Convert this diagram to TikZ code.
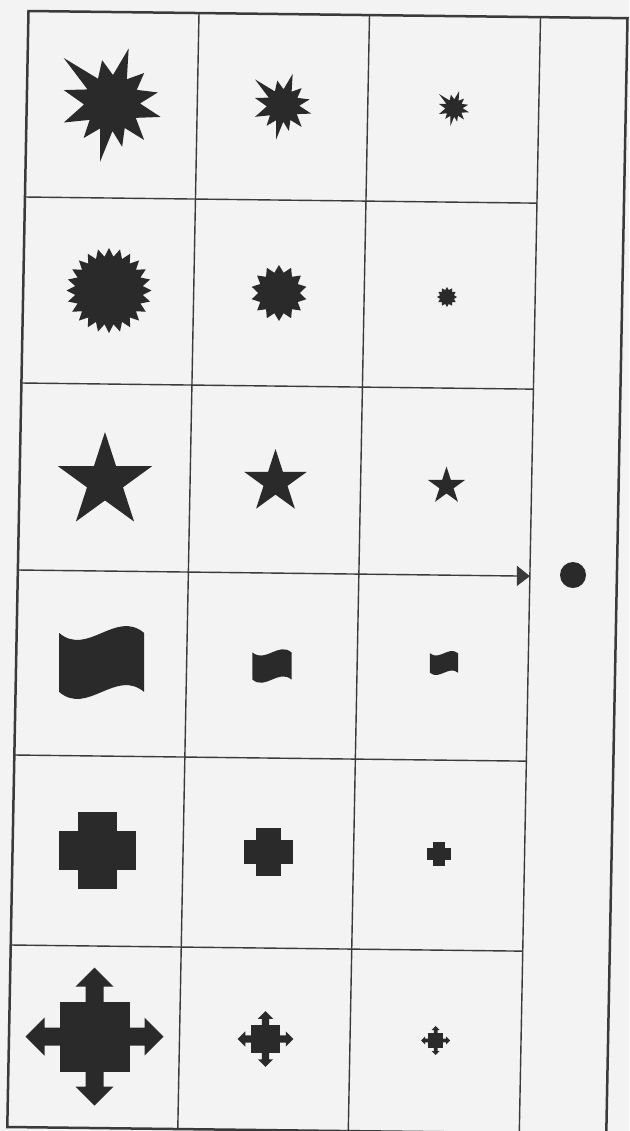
\documentclass[tikz,border=0pt]{standalone}
\usetikzlibrary{shapes.geometric,arrows.meta}
\definecolor{paper}{HTML}{F3F3F3}
\definecolor{ink}{HTML}{2A2A2A}
\definecolor{rule}{HTML}{3A3A3A}
\tikzset{
  gridline/.style={draw=rule,line width=0.7pt},
  frameline/.style={draw=rule,line width=1.25pt},
  shapefill/.style={fill=ink,draw=none},
  sunstar/.style={star,shapefill,inner sep=0pt},
  burst/.pic={\fill[shapefill] (137:33pt) -- (120:14pt) -- (103:22pt) -- (88:14pt) -- (73:28.5pt) -- (58:14pt) -- (43:22pt) -- (28:14pt) -- (13:23.5pt) -- (-1:14pt) -- (-16:25.3pt) -- (-32:14pt) -- (-49:24.5pt) -- (-63:14pt) -- (-77:22.5pt) -- (-89:14pt) -- (-101.5:30pt) -- (-115:14pt) -- (-129:22.5pt) -- (-143:14pt) -- (-158:26pt) -- (183:14pt) -- (165:25pt) -- (151:14pt) -- cycle;},
  flagshape/.pic={\fill[shapefill] (-21.25pt,14.75pt) .. controls (-7.1pt,2.75pt) and (7.1pt,26.75pt) .. (21.25pt,14.75pt) -- (21.25pt,-14.75pt) .. controls (7.1pt,-2.75pt) and (-7.1pt,-26.75pt) .. (-21.25pt,-14.75pt) -- cycle;},
  plusshape/.pic={\fill[shapefill] (-9.75pt,-19.25pt) rectangle (9.75pt,19.25pt); \fill[shapefill] (-19.25pt,-9.75pt) rectangle (19.25pt,9.75pt);},
  moveshape/.pic={\fill[shapefill] (-17.5pt,-17.5pt) rectangle (17.5pt,17.5pt);
    \foreach \a in {0,90,180,270}{\fill[shapefill,rotate=\a] (17pt,-4.5pt) -- (25pt,-4.5pt) -- (25pt,-9.5pt) -- (34.5pt,0pt) -- (25pt,9.5pt) -- (25pt,4.5pt) -- (17pt,4.5pt) -- cycle;}}
}
\begin{document}
\begin{tikzpicture}[x=0.5pt,y=-0.5pt]
\useasboundingbox (0,0) rectangle (629,1131);
\fill[paper] (0,0) rectangle (629,1131);
\begin{scope}
\clip (0,0) rectangle (629,1131);
\begin{scope}[shift={(28.5,11)},x={(0.5pt,-0.006pt)},y={(-0.0095pt,-0.5pt)}]
  \draw[frameline,line join=miter] (0,0) -- (599,0) -- (599,1116) -- (0,1116) -- cycle;
  \foreach \u in {170.5,341,512} \draw[gridline] (\u,0) -- (\u,1116);
  \foreach \v in {186,372,744,934} \draw[gridline] (0,\v) -- (512,\v);
  \coordinate (astart) at (0,559);
  \coordinate (aend) at (512,559);
  \draw[gridline,-{Triangle[length=6.5pt,width=10pt]}] (astart) -- (aend);
\end{scope}
\end{scope}
% row 1: bursts
\pic (b1) at (112,103) {burst};
\pic[scale=0.58] (b2) at (283,105.5) {burst};
\pic[scale=0.31] (b3) at (454,108) {burst};
% row 2: sunbursts
\node[sunstar,star points=24,star point ratio=1.25,minimum size=42.5pt] (s1) at (109,290.5) {};
\node[sunstar,star points=14,star point ratio=1.35,minimum size=28pt] (s2) at (279,293) {};
\node[sunstar,star points=12,star point ratio=1.4,minimum size=10pt] (s3) at (447,297) {};
% row 3: stars
\node[sunstar,star points=5,star point ratio=2.618,minimum size=49.5pt] (t1) at (105,481.5) {};
\node[sunstar,star points=5,star point ratio=2.618,minimum size=33pt] (t2) at (275.5,482) {};
\node[sunstar,star points=5,star point ratio=2.618,minimum size=19.5pt] (t3) at (446.5,486) {};
% row 4: flags
\pic (f1) at (101.7,662.5) {flagshape};
\pic[scale=0.46] (f2) at (272,666) {flagshape};
\pic[scale=0.33] (f3) at (444,663) {flagshape};
% row 5: crosses
\pic (c1) at (97.7,850.3) {plusshape};
\pic[scale=0.63] (c2) at (268.3,852) {plusshape};
\pic[scale=0.31] (c3) at (439,854) {plusshape};
% row 6: four-way arrows
\pic (m1) at (94.5,1036.7) {moveshape};
\pic[scale=0.405] (m2) at (265.5,1039) {moveshape};
\pic[scale=0.21] (m3) at (435.7,1040.5) {moveshape};
% dot
\node[circle,fill=ink,minimum size=13pt,inner sep=0pt] (dot) at (573,575) {};
\end{tikzpicture}
\end{document}
